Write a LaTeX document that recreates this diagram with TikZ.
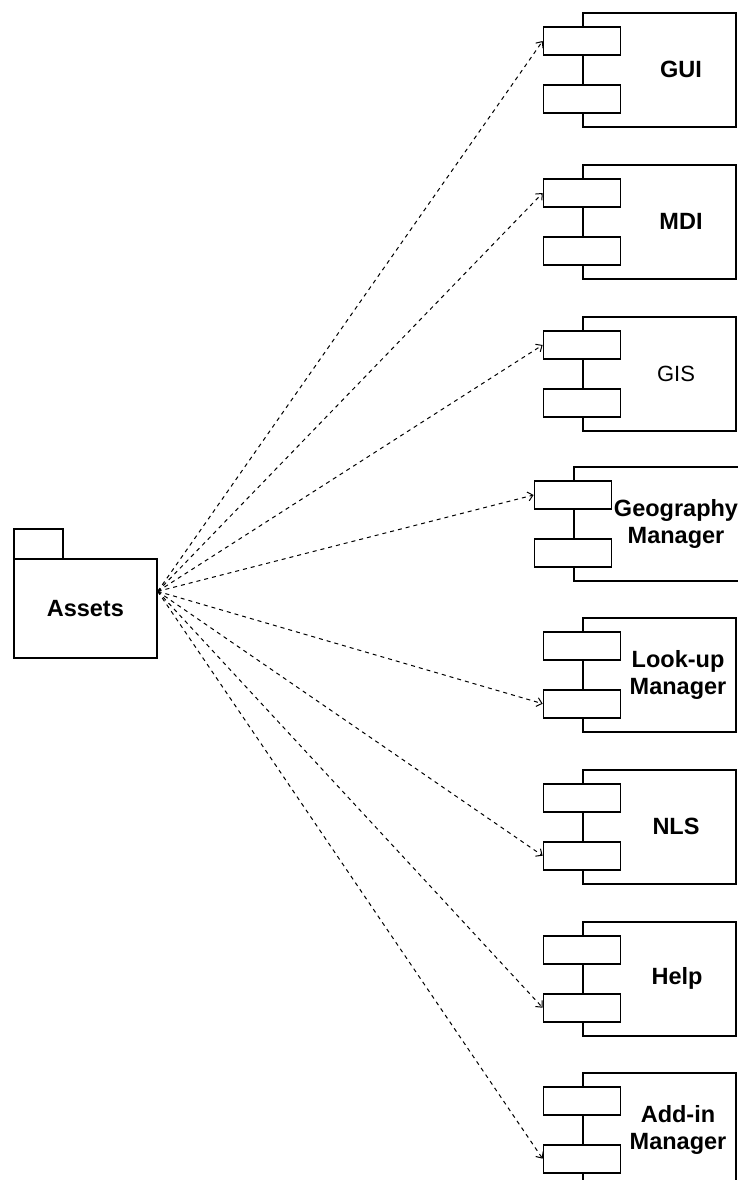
\documentclass[tikz,border=0pt]{standalone}
\usepackage{fontspec}
\setmainfont{Liberation Sans}
\usetikzlibrary{arrows.meta,calc}

% a UML component: box with two port rectangles straddling its left edge
% #1 name, #2 left x, #3 top y, #4 width
\newcommand{\umlcomp}[4]{%
  \node[compbox, minimum width=#4] (#1) at (#2,#3) {};
  \node[port] (#1-a) at ([yshift=-29pt]#1.north west) {};
  \node[port] (#1-b) at ([yshift=29pt]#1.south west) {};
}

\begin{document}
\begin{tikzpicture}[x=1pt,y=-1pt,
  outline/.style={draw=black, line width=1.7pt},
  compbox/.style={outline, fill=white, minimum height=114pt, inner sep=0pt, anchor=north west},
  port/.style={outline, fill=white, minimum width=77pt, minimum height=28pt, inner sep=0pt},
  comptext/.style={font=\fontsize{23.5}{27}\selectfont\bfseries, align=center, inner sep=0pt},
  dep/.style={draw=black, line width=1pt, dash pattern=on 4pt off 4pt,
              -{Straight Barb[length=5pt,width=9pt,line width=1pt]}}
]
\useasboundingbox (0,0) rectangle (738,1180);
\clip (0,0) rectangle (738,1180);

% package "Assets"
\node[outline, minimum width=49pt, minimum height=30pt, inner sep=0pt, anchor=north west]
  (assets-tab) at (13,528) {};
\node[outline, fill=white, minimum width=143pt, minimum height=99pt, inner sep=0pt, anchor=north west]
  (assets) at (13,558) {};
\node[comptext] (assets-t) at (assets.center) {Assets};
\coordinate (src) at ([yshift=17pt]assets.east);

% components
\umlcomp{gui}{582}{12}{153}
\umlcomp{mdi}{582}{164}{153}
\umlcomp{gis}{582}{316}{153}
\umlcomp{geo}{573}{466}{200}
\umlcomp{lookup}{582}{617}{153}
\umlcomp{nls}{582}{769}{153}
\umlcomp{help}{582}{921}{153}
\umlcomp{addin}{582}{1072}{153}

\node[comptext] (gui-t) at (gui.center -| 681,0) {GUI};
\node[comptext] (mdi-t) at (mdi.center -| 681,0) {MDI};
\node[comptext, font=\fontsize{22}{27}\selectfont] (gis-t) at (gis.center -| 676,0) {GIS};
\node[comptext] (geo-t) at (geo.center -| 676,0) {Geography\\Manager};
\node[comptext] (lookup-t) at (lookup.center -| 678,0) {Look-up\\Manager};
\node[comptext] (nls-t) at (nls.center -| 676,0) {NLS};
\node[comptext] (help-t) at (help.center -| 677,0) {Help};
\node[comptext] (addin-t) at (addin.center -| 678,0) {Add-in\\Manager};

% dependencies
\draw[dep] (src) -- (gui-a.west);
\draw[dep] (src) -- (mdi-a.west);
\draw[dep] (src) -- (gis-a.west);
\draw[dep] (src) -- (geo-a.west);
\draw[dep] (src) -- (lookup-b.west);
\draw[dep] (src) -- (nls-b.west);
\draw[dep] (src) -- (help-b.west);
\draw[dep] (src) -- (addin-b.west);
\end{tikzpicture}
\end{document}
